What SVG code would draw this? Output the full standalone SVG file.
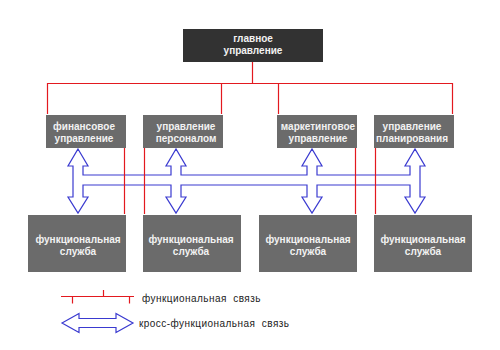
<svg xmlns="http://www.w3.org/2000/svg" width="500" height="350" viewBox="0 0 500 350">
<style>
.top{fill:#323232}
.box{fill:#6b6b6b}
.t{font-family:"Liberation Sans",Arial,sans-serif;font-weight:bold;font-size:10px;fill:#f2f2f2;text-anchor:middle}
.red{stroke:#e3191f;stroke-width:1.2;fill:none}
.blue{stroke:#3a3ad0;stroke-width:1.2;fill:none;stroke-linejoin:miter}
.lg{font-family:"Liberation Sans",Arial,sans-serif;font-size:10px;letter-spacing:0.45px;fill:#222;white-space:pre}
</style>
<rect width="500" height="350" fill="#fff"/>
<g id="connectors">
<path class="blue" d="M78,149 L88,166 L83,166 L83,175 L171,175 L171,166 L166,166 L176,149 L186,166 L181,166 L181,175 L307,175 L307,166 L302,166 L312,149 L322,166 L317,166 L317,175 L410,175 L410,166 L405,166 L415,149 L425,166 L420,166 L420,197 L425,197 L415,213 L405,197 L410,197 L410,185 L317,185 L317,197 L322,197 L312,213 L302,197 L307,197 L307,185 L181,185 L181,197 L186,197 L176,213 L166,197 L171,197 L171,185 L83,185 L83,197 L88,197 L78,213 L68,197 L73,197 L73,166 L68,166 Z"/>
<path class="red" d="M252.5,62 V83.5 M47.5,114 V83.5 H452.5 V114 M221.5,83.5 V114 M278.5,83.5 V114"/>
<path class="red" d="M124.5,148 V214 M144.5,148 V214 M355.5,148 V214 M375.5,148 V214"/>
</g>
<g id="main">
<rect class="top" x="183" y="29" width="140" height="33"/>
<text class="t" x="253" y="41.5">главное</text>
<text class="t" x="253" y="53.5">управление</text>
</g>
<g id="fin">
<rect class="box" x="46" y="115" width="80" height="33"/>
<text class="t" x="84" y="129.5">финансовое</text>
<text class="t" x="84" y="141.5">управление</text>
</g>
<g id="pers">
<rect class="box" x="143" y="115" width="80" height="33"/>
<text class="t" x="186" y="129.5">управление</text>
<text class="t" x="186" y="141.5">персоналом</text>
</g>
<g id="mark">
<rect class="box" x="277" y="115" width="80" height="33"/>
<text class="t" x="318" y="129.5">маркетинговое</text>
<text class="t" x="318" y="141.5">управление</text>
</g>
<g id="plan">
<rect class="box" x="374" y="115" width="80" height="33"/>
<text class="t" x="412" y="129.5">управление</text>
<text class="t" x="412" y="141.5">планирования</text>
</g>
<g id="s1">
<rect class="box" x="28" y="215" width="98" height="57"/>
<text class="t" x="78" y="243">функциональная</text>
<text class="t" x="78" y="254.5">служба</text>
</g>
<g id="s2">
<rect class="box" x="143" y="215" width="98" height="57"/>
<text class="t" x="191" y="243">функциональная</text>
<text class="t" x="191" y="254.5">служба</text>
</g>
<g id="s3">
<rect class="box" x="259" y="215" width="98" height="57"/>
<text class="t" x="308" y="243">функциональная</text>
<text class="t" x="308" y="254.5">служба</text>
</g>
<g id="s4">
<rect class="box" x="374" y="215" width="98" height="57"/>
<text class="t" x="423" y="243">функциональная</text>
<text class="t" x="423" y="254.5">служба</text>
</g>
<g id="legend">
<path class="red" d="M61,296.5 H134 M103.5,290 V296.5 M72.5,296.5 V303.5 M129.5,296.5 V303.5"/>
<text class="lg" x="142" y="301.5">функциональная  связь</text>
<path class="blue" d="M62,323 L79,313.5 L79,318.5 L116,318.5 L116,313.5 L133,323 L116,332.5 L116,327.5 L79,327.5 L79,332.5 Z"/>
<text class="lg" x="139" y="327">кросс-функциональная  связь</text>
</g>
</svg>
